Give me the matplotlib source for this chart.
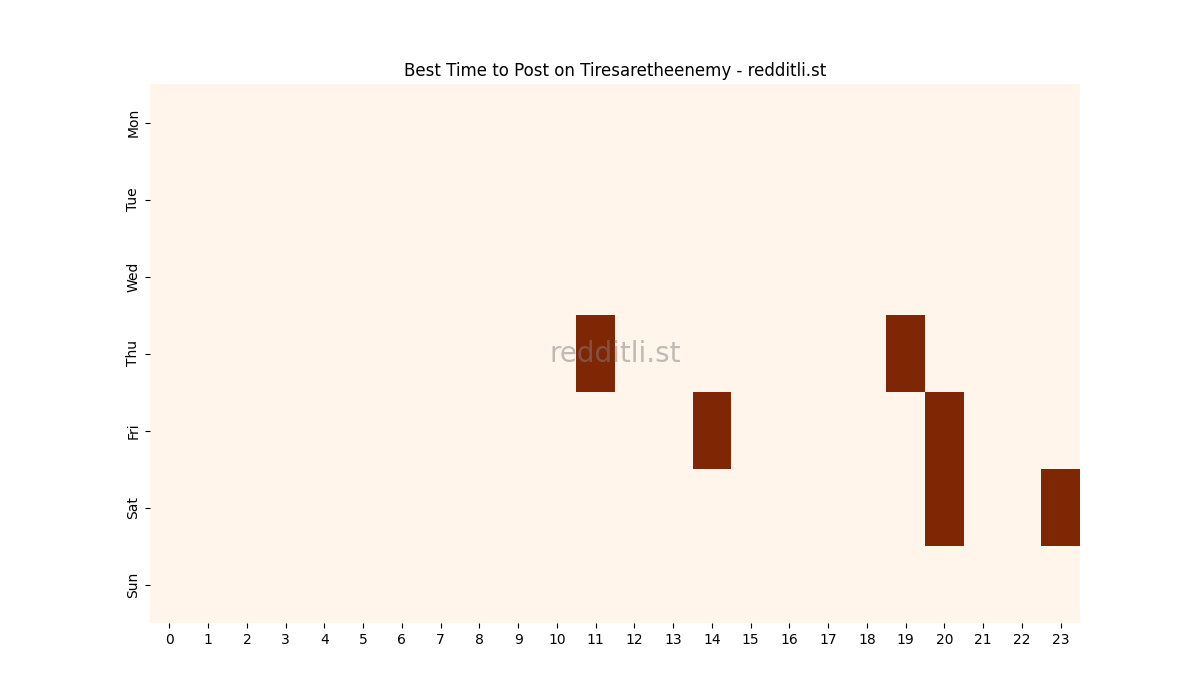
import numpy as np
import matplotlib
matplotlib.use("Agg")
import matplotlib.pyplot as plt
import seaborn as sns

days = ["Mon", "Tue", "Wed", "Thu", "Fri", "Sat", "Sun"]
hours = list(range(24))

# (day, hour) cells with the top posting score
best_slots = [("Thu", 11), ("Thu", 19), ("Fri", 14), ("Fri", 20), ("Sat", 20), ("Sat", 23)]
best_value = 1

grid = np.zeros((len(days), len(hours)))
for day, hour in best_slots:
    grid[days.index(day), hour] = best_value

fig = plt.figure(figsize=(12, 7), dpi=100)
ax = sns.heatmap(grid, cmap="Oranges", cbar=False, xticklabels=hours, yticklabels=days)
ax.set_title("Best Time to Post on Tiresaretheenemy - redditli.st")
plt.yticks(rotation=90, va="center")
plt.xticks(rotation=0)

# watermark
ax.text(0.5, 0.5, "redditli.st", transform=ax.transAxes, fontsize=20,
        color="grey", alpha=0.5, ha="center", va="center")

plt.savefig("out.png")
